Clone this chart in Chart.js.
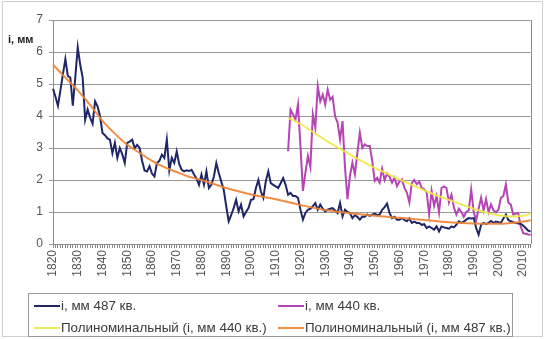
<!DOCTYPE html>
<html>
<head>
<meta charset="utf-8">
<script src="https://cdn.jsdelivr.net/npm/chart.js@4"></script>
<style>
  body { margin: 0; background: #fff; }
  #wrap { position: relative; width: 547px; height: 339px; font-family: 'Liberation Sans', Arial, sans-serif; }
  #frame { position: absolute; left: 2px; top: 1px; width: 541px; height: 336px; border: 1px solid #cfcfcf; box-sizing: border-box; }
  #ylab { position: absolute; left: 8px; top: 33px; font-size: 11px; font-weight: bold; color: #222; }
  #legend { position: absolute; left: 28px; top: 293px; width: 485px; height: 44px; border: 1px solid #9a9a9a; box-sizing: border-box; }
  .item { position: absolute; font-size: 13.4px; color: #3a3a3a; white-space: nowrap; line-height: 15px; }
  .item span.sw { display: inline-block; width: 26px; height: 2px; vertical-align: middle; margin-right: 1px; }
</style>
</head>
<body>
<div id="wrap">
  <div id="frame"></div>
  <canvas id="chart" width="547" height="339"></canvas>
  <div id="ylab">i, мм</div>
  <div id="legend"></div>
</div>
<script>
const firstYear = 1820;
const lastYear = 2013;

// ширина кольца, кв. 487 (1820-2013)
const ring487 = [
    4.85, 4.6, 4.32, 4.8, 5.3, 5.78, 5.25, 5.2, 4.32, 5.2,
    6.15, 5.6, 5.19, 3.88, 4.2, 3.95, 3.76, 4.46, 4.3, 4.0,
    3.47, 3.4, 3.3, 3.26, 2.84, 3.16, 2.69, 3.0, 2.8, 2.53,
    3.16, 3.2, 3.26, 3.0, 3.1, 3.0, 2.6, 2.3, 2.27, 2.43,
    2.2, 2.11, 2.53, 2.6, 2.79, 2.69, 3.26, 2.3, 2.69, 2.53,
    2.89, 2.5, 2.32, 2.27, 2.3, 2.28, 2.32, 2.17, 2.05, 1.85,
    2.17, 1.85, 2.27, 1.75, 1.85, 2.1, 2.53, 2.22, 1.95, 1.7,
    1.18, 0.71, 0.9, 1.12, 1.38, 1.02, 1.23, 0.86, 1.0, 1.12,
    1.38, 1.4, 1.75, 2.0, 1.64, 1.44, 1.96, 2.27, 1.9, 1.85,
    1.8, 1.75, 1.9, 2.06, 1.85, 1.54, 1.6, 1.5, 1.5, 1.44,
    1.07, 0.76, 0.97, 1.07, 1.1, 1.18, 1.28, 1.07, 1.23, 1.1,
    1.02, 1.07, 1.1, 1.12, 1.05, 0.97, 1.28, 0.86, 1.07, 1.0,
    0.97, 0.81, 0.9, 0.85, 0.76, 0.86, 0.85, 0.92, 0.88, 0.92,
    0.95, 0.9, 0.92, 1.07, 1.15, 1.26, 0.97, 0.81, 0.85, 0.76,
    0.76, 0.81, 0.75, 0.71, 0.8, 0.66, 0.7, 0.66, 0.66, 0.6,
    0.62, 0.5, 0.55, 0.5, 0.45, 0.55, 0.39, 0.55, 0.52, 0.5,
    0.48, 0.55, 0.52, 0.6, 0.71, 0.66, 0.7, 0.76, 0.81, 0.8,
    0.81, 0.5, 0.29, 0.6, 0.66, 0.62, 0.66, 0.72, 0.66, 0.7,
    0.68, 0.66, 0.8, 0.92, 0.75, 0.71, 0.68, 0.66, 0.64, 0.63,
    0.58, 0.5, 0.42, 0.39
];

// ширина кольца, кв. 440 (1915-2013)
const start440 = 1915;
const ring440 = [
    2.9, 4.2, 4.05, 3.89, 4.36,
    3.06, 1.66, 2.23, 2.75, 2.4, 4.05, 3.63, 4.93, 4.46, 4.67,
    4.36, 4.82, 4.51, 4.6, 3.99, 3.79, 3.27, 3.84, 2.39, 1.4,
    2.13, 2.54, 2.18, 2.85, 3.48, 3.0, 3.11, 3.06, 3.06, 2.6,
    1.97, 2.07, 1.92, 2.35, 2.0, 2.2, 2.1, 1.92, 2.07, 1.81,
    1.95, 2.02, 1.76, 1.61, 1.3, 1.9, 2.0, 1.87, 1.95, 1.75,
    1.71, 1.61, 0.93, 1.66, 1.19, 1.5, 0.99, 1.75, 1.8, 1.75,
    1.3, 1.54, 1.15, 0.92, 1.1, 1.0, 0.85, 1.0, 1.05, 1.7,
    1.0, 0.75, 1.1, 1.45, 1.05, 1.4, 1.0, 1.24, 1.05, 0.99,
    1.07, 1.44, 1.5, 1.86, 1.3, 1.23, 0.92, 0.95, 0.97, 0.55,
    0.34, 0.32, 0.3, 0.29
];

// полиномиальные тренды
const trend487Years = [1820, 1825, 1830, 1835, 1840, 1845, 1850, 1855, 1860, 1865, 1870, 1875, 1880, 1890, 1900, 1910, 1920, 1930, 1940, 1950, 1960, 1970, 1980, 1990, 2000, 2010, 2013];
const trend487Values = [5.6, 5.2, 4.8, 4.35, 3.85, 3.45, 3.1, 2.85, 2.6, 2.4, 2.25, 2.1, 2.0, 1.75, 1.55, 1.4, 1.22, 1.06, 0.96, 0.88, 0.82, 0.75, 0.68, 0.64, 0.63, 0.7, 0.74];
const trend440Years = [1915, 1920, 1925, 1930, 1935, 1940, 1945, 1950, 1955, 1960, 1965, 1970, 1975, 1980, 1985, 1990, 1995, 2000, 2005, 2010, 2013];
const trend440Values = [3.95, 3.75, 3.5, 3.25, 3.02, 2.8, 2.58, 2.38, 2.2, 2.02, 1.85, 1.68, 1.52, 1.38, 1.24, 1.1, 0.98, 0.9, 0.86, 0.88, 0.95];

const years = [];
for (let y = firstYear; y <= lastYear; y++) years.push(y);

const data440 = years.map(y => y < start440 ? null : ring440[y - start440]);
const sparse = (ys, vs) => years.map(y => { const i = ys.indexOf(y); return i < 0 ? null : vs[i]; });

const tickFont = { family: "'Liberation Sans', Arial, sans-serif", size: 12 };

const rightBorder = {
    id: 'rightBorder',
    afterDraw(chart) {
        const { ctx, chartArea: a } = chart;
        ctx.save();
        ctx.strokeStyle = '#8c8c8c';
        ctx.lineWidth = 1;
        ctx.beginPath();
        ctx.moveTo(Math.round(a.right) + 0.5, a.top);
        ctx.lineTo(Math.round(a.right) + 0.5, a.bottom);
        ctx.stroke();
        ctx.restore();
    }
};

const chart = new Chart(document.getElementById('chart'), {
    type: 'line',
    data: {
        labels: years,
        datasets: [{
            label: 'i, мм 487 кв.',
            data: ring487,
            borderColor: '#1f2668',
            borderWidth: 2,
            pointRadius: 0,
            tension: 0,
            order: 2,
        }, {
            label: 'i, мм 440 кв.',
            data: data440,
            borderColor: '#b544b5',
            borderWidth: 2,
            pointRadius: 0,
            tension: 0,
            order: 3,
        }, {
            label: 'Полиноминальный (i, мм 440 кв.)',
            data: sparse(trend440Years, trend440Values),
            borderColor: 'rgba(240, 232, 70, 0.9)',
            borderWidth: 2,
            pointRadius: 0,
            spanGaps: true,
            cubicInterpolationMode: 'monotone',
            order: 1,
        }, {
            label: 'Полиноминальный (i, мм 487 кв.)',
            data: sparse(trend487Years, trend487Values),
            borderColor: 'rgba(238, 130, 50, 0.9)',
            borderWidth: 2,
            pointRadius: 0,
            spanGaps: true,
            cubicInterpolationMode: 'monotone',
            order: 0,
        }]
    },
    options: {
        responsive: false,
        animation: false,
        layout: { padding: { top: 20, right: 9, left: 0, bottom: 0 } },
        scales: {
            x: {
                offset: false,
                grid: { drawOnChartArea: false, tickLength: 4, color: '#8c8c8c' },
                border: { color: '#8c8c8c' },
                ticks: {
                    autoSkip: false,
                    minRotation: 90,
                    maxRotation: 90,
                    padding: 2,
                    color: '#555',
                    font: tickFont,
                    callback: (v, i) => years[i] % 10 === 0 ? String(years[i]) : '',
                },
                afterFit: s => { s.height = 95; },
            },
            y: {
                min: 0,
                max: 7,
                ticks: { stepSize: 1, color: '#555', font: tickFont, padding: 6 },
                grid: { color: '#9a9a9a', tickLength: 4 },
                border: { color: '#8c8c8c' },
                afterFit: s => { s.width = 53; },
            }
        },
        plugins: {
            legend: { display: false },
            tooltip: { enabled: false },
        }
    },
    plugins: [rightBorder]
});

// легенда: два столбца, как в исходнике
const slots = [[5, 4], [249, 4], [5, 26], [249, 26]];
const legend = document.getElementById('legend');
chart.data.datasets.forEach((ds, k) => {
    const el = document.createElement('div');
    el.className = 'item';
    el.style.left = slots[k][0] + 'px';
    el.style.top = slots[k][1] + 'px';
    el.innerHTML = '<span class="sw" style="background:' + ds.borderColor + '"></span>' + ds.label;
    legend.appendChild(el);
});
</script>
</body>
</html>
